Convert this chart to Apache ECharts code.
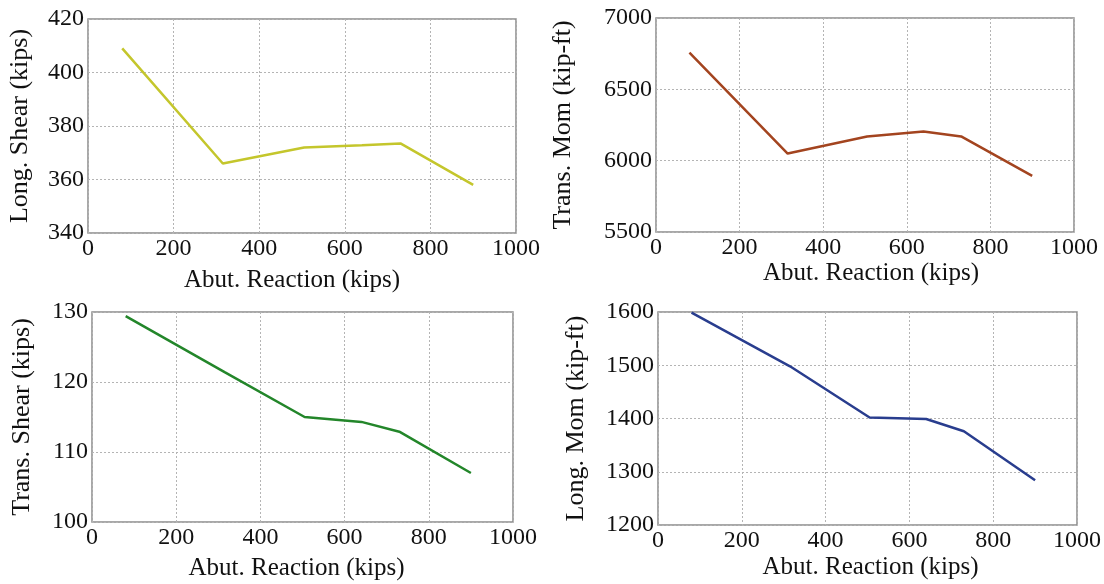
<!DOCTYPE html>
<html>
<head>
<meta charset="utf-8">
<script src="https://cdn.jsdelivr.net/npm/echarts@6/dist/echarts.min.js"></script>
<style>
  html, body { margin: 0; padding: 0; background: #fff; }
  #chart { width: 1104px; height: 584px; }
</style>
</head>
<body>
<div id="chart"></div>
<script>
// Abutment reaction (kips) shared by all four panels
const abutReaction = [80, 315, 505, 640, 730, 900];

// Response quantities at each abutment reaction
const longShear  = [409, 366, 372, 372.8, 373.5, 358];     // kips
const transMom   = [6757, 6050, 6170, 6205, 6170, 5893];   // kip-ft
const transShear = [129.4, 121.4, 115, 114.3, 112.9, 107]; // kips
const longMom    = [1599, 1498, 1402, 1399, 1376, 1284];   // kip-ft

const xTicks = { min: 0, max: 1000, interval: 200 };

const FONT = '"Liberation Serif", "DejaVu Serif", serif';
// xShift nudges the x-axis title sideways (px, negative = left)
const panels = [
  { grid: { left: 88,  top: 19,  width: 428, height: 214 }, y: longShear,  name: 'Long. Shear (kips)',  min: 340,  max: 420,  step: 20,  color: '#c4c62c', gap: 55, xGap: 35, xShift: -10 },
  { grid: { left: 656, top: 18,  width: 418, height: 214 }, y: transMom,   name: 'Trans. Mom (kip-ft)', min: 5500, max: 7000, step: 500, color: '#a3441f', gap: 80, xGap: 29, xShift: 6 },
  { grid: { left: 92,  top: 312, width: 421, height: 210 }, y: transShear, name: 'Trans. Shear (kips)', min: 100,  max: 130,  step: 10,  color: '#23862a', gap: 57, xGap: 34, xShift: -6 },
  { grid: { left: 658, top: 312, width: 419, height: 213 }, y: longMom,    name: 'Long. Mom (kip-ft)',  min: 1200, max: 1600, step: 100, color: '#293d8e', gap: 69, xGap: 30, xShift: 3 }
];

const splitLine = { show: true, lineStyle: { color: '#b4b4b4', type: [2, 2], width: 1 } };
const label = { color: '#111', fontFamily: FONT, fontSize: 24, formatter: v => String(v) };

function shiftPadding(s) {
  return s < 0 ? [0, -2 * s, 0, 0] : [0, 0, 0, 2 * s];
}

const option = {
  backgroundColor: '#fff',
  animation: false,
  grid: panels.map(p => Object.assign({ show: true, borderColor: '#8c8c8c', borderWidth: 1.5, containLabel: false }, p.grid)),
  xAxis: panels.map((p, i) => ({
    type: 'value', gridIndex: i,
    min: xTicks.min, max: xTicks.max, interval: xTicks.interval,
    name: 'Abut. Reaction (kips)', nameLocation: 'middle', nameGap: p.xGap,
    nameTextStyle: { color: '#111', fontFamily: FONT, fontSize: 25, padding: shiftPadding(p.xShift) },
    axisLine: { show: false }, axisTick: { show: false },
    axisLabel: Object.assign({ margin: 4 }, label),
    splitLine
  })),
  yAxis: panels.map((p, i) => ({
    type: 'value', gridIndex: i,
    min: p.min, max: p.max, interval: p.step,
    name: p.name, nameLocation: 'middle', nameGap: p.gap,
    nameTextStyle: { color: '#111', fontFamily: FONT, fontSize: 26 },
    axisLine: { show: false }, axisTick: { show: false },
    axisLabel: Object.assign({ margin: 4 }, label),
    splitLine
  })),
  series: panels.map((p, i) => ({
    type: 'line', xAxisIndex: i, yAxisIndex: i,
    data: abutReaction.map((x, k) => [x, p.y[k]]),
    showSymbol: false, symbol: 'none',
    lineStyle: { color: p.color, width: 2.5 }
  }))
};

echarts.init(document.getElementById('chart'), null, { renderer: 'canvas' }).setOption(option);
</script>
</body>
</html>
